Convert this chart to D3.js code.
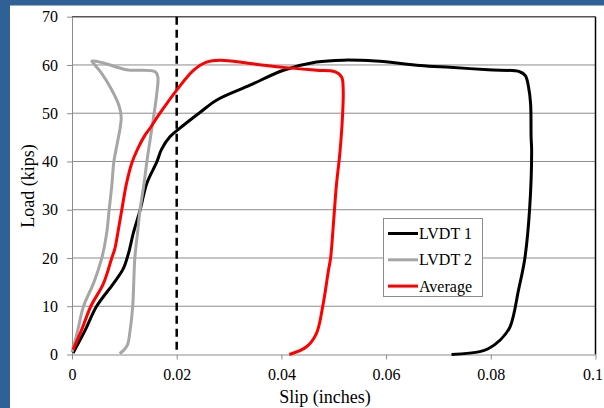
<!DOCTYPE html>
<html>
<head>
<meta charset="utf-8">
<script src="https://cdn.jsdelivr.net/npm/d3@7"></script>
<style>
  body { margin: 0; background: #fff; }
</style>
</head>
<body>
<div id="chart"></div>
<script>
var FONT = "'Times New Roman', 'Liberation Serif', 'DejaVu Serif', serif";

// slip (inches), load (kips)
var lvdt1 = [[0.0002,0.3],[0.0025,5],[0.0047,10],[0.0079,14.7],[0.0098,17.8],[0.0108,21],[0.0117,25.1],
  [0.013,29.9],[0.0143,35.5],[0.0162,39.9],[0.0171,42.5],[0.0187,45.1],[0.0213,47.5],[0.0245,50.2],
  [0.0276,52.7],[0.034,55.8],[0.0404,58.9],[0.0467,60.6],[0.0518,61.0],[0.058,60.8],[0.0665,59.9],
  [0.0722,59.5],[0.0795,59.0],[0.0855,58.6],[0.0866,57.8],[0.0872,55.5],[0.0876,52],[0.0877,45],
  [0.0878,42.3],[0.0874,29.9],[0.0865,19.9],[0.0853,13.4],[0.0837,5.8],[0.0818,3],[0.0795,1.2],
  [0.0779,0.6],[0.0725,0]];

var lvdt2 = [[0,0.5],[0.0004,2],[0.0011,5],[0.0022,10],[0.0042,15],[0.0057,20],[0.0066,25],[0.0071,30],
  [0.0076,35],[0.008,40],[0.0086,43.5],[0.0092,47],[0.0094,49.2],[0.009,51.5],[0.0075,55],
  [0.0055,58.5],[0.0042,60.2],[0.0038,60.8],[0.006,60.4],[0.0104,59],[0.0159,58.6],[0.0164,57.5],
  [0.0162,54.1],[0.0155,48.6],[0.0145,41.5],[0.0137,35],[0.013,30],[0.0125,25],[0.012,20],
  [0.0118,15],[0.0116,10],[0.0111,5],[0.0106,2],[0.0098,0.8],[0.0091,0.2]];

var average = [[0.0002,1],[0.0018,5],[0.0036,10],[0.006,14.7],[0.0076,20],[0.0082,22],[0.0088,25.5],
  [0.0095,29.9],[0.0104,35.4],[0.0114,39.6],[0.0125,42.5],[0.0138,45.2],[0.0151,47.2],[0.0168,50],
  [0.02,54.8],[0.0232,58.9],[0.0257,60.6],[0.0283,61],[0.034,60.3],[0.0404,59.5],[0.0467,58.9],
  [0.0502,58.6],[0.0515,57.5],[0.0518,55],[0.0517,50],[0.0512,42.1],[0.0505,35],[0.05,28],
  [0.0494,20],[0.049,17.5],[0.0479,10],[0.0467,4.4],[0.0448,1.6],[0.0415,0]];

var seriesNames = ["LVDT 1", "LVDT 2", "Average"];
var seriesColors = ["#000000", "#a6a6a6", "#ff0000"];
var xTicks = [0, 0.02, 0.04, 0.06, 0.08, 0.1];
var yTicks = [0, 10, 20, 30, 40, 50, 60, 70];
var markerSlip = 0.02;

var svg = d3.select("#chart").append("svg")
  .attr("width", 604)
  .attr("height", 408);

// slide background strips
svg.append("rect").attr("x", 0).attr("y", 0).attr("width", 604).attr("height", 5.5).attr("fill", "#2f6196");
svg.append("rect").attr("x", 0).attr("y", 0).attr("width", 10).attr("height", 408).attr("fill", "#2f6196");

var x = d3.scaleLinear().domain([0, 0.1]).range([72, 595.5]);
var y = d3.scaleLinear().domain([0, 70]).range([354.5, 16.7]);

// gridlines
svg.selectAll(".grid").data(yTicks.slice(1, -1)).enter().append("line")
  .attr("x1", x(0)).attr("x2", x(0.1))
  .attr("y1", function (d) { return y(d); }).attr("y2", function (d) { return y(d); })
  .attr("stroke", "#8c8c8c").attr("stroke-width", 1);

// top and right border
svg.append("line").attr("x1", x(0)).attr("x2", x(0.1)).attr("y1", y(70)).attr("y2", y(70))
  .attr("stroke", "#555").attr("stroke-width", 1.5);
svg.append("line").attr("x1", x(0.1)).attr("x2", x(0.1)).attr("y1", y(70)).attr("y2", y(0))
  .attr("stroke", "#000").attr("stroke-width", 1.5);

// axes
var yAxis = svg.append("g").attr("transform", "translate(" + x(0) + ",0)")
  .call(d3.axisLeft(y).tickValues(yTicks).tickSize(5).tickPadding(9).tickSizeOuter(0));
var xAxis = svg.append("g").attr("transform", "translate(0," + y(0) + ")")
  .call(d3.axisBottom(x).tickValues(xTicks).tickSize(5).tickPadding(9).tickSizeOuter(0)
    .tickFormat(function (d) { return String(d); }));
[xAxis, yAxis].forEach(function (a) {
  a.attr("font-family", null).attr("font-size", null);
  a.select(".domain").attr("stroke", "#8c8c8c");
  a.selectAll(".tick line").attr("stroke", "#8c8c8c");
  a.selectAll("text").style("font-family", FONT).style("font-size", "16px").attr("fill", "#000");
});
// keep the last x label inside the window
xAxis.selectAll(".tick text").filter(function (d) { return d === 0.1; }).attr("dx", -3);

// dashed marker at 0.02
svg.append("line").attr("x1", x(markerSlip)).attr("x2", x(markerSlip))
  .attr("y1", y(70)).attr("y2", y(0))
  .attr("stroke", "#000").attr("stroke-width", 2.5).attr("stroke-dasharray", "8,5");

var line = d3.line()
  .x(function (d) { return x(d[0]); })
  .y(function (d) { return y(d[1]); })
  .curve(d3.curveCatmullRom.alpha(0.5));

[lvdt1, lvdt2, average].forEach(function (s, i) {
  svg.append("path").datum(s)
    .attr("d", line)
    .attr("fill", "none")
    .attr("stroke", seriesColors[i])
    .attr("stroke-width", 3)
    .attr("stroke-linejoin", "round");
});

// axis titles
svg.append("text").attr("x", 325).attr("y", 403).attr("text-anchor", "middle")
  .style("font-family", FONT).style("font-size", "18px").text("Slip (inches)");
svg.append("text").attr("transform", "translate(34,186) rotate(-90)").attr("text-anchor", "middle")
  .style("font-family", FONT).style("font-size", "18px").text("Load (kips)");

// legend
var legend = svg.append("g");
legend.append("rect").attr("x", 383.5).attr("y", 218.5).attr("width", 99).attr("height", 78)
  .attr("fill", "#fff").attr("stroke", "#8c8c8c");
seriesNames.forEach(function (n, i) {
  var ly = 233.5 + i * 26.3;
  legend.append("line").attr("x1", 388).attr("x2", 418).attr("y1", ly).attr("y2", ly)
    .attr("stroke", seriesColors[i]).attr("stroke-width", 3);
  legend.append("text").attr("x", 419).attr("y", ly + 5.5)
    .style("font-family", FONT).style("font-size", "16px").text(n);
});
</script>
</body>
</html>
